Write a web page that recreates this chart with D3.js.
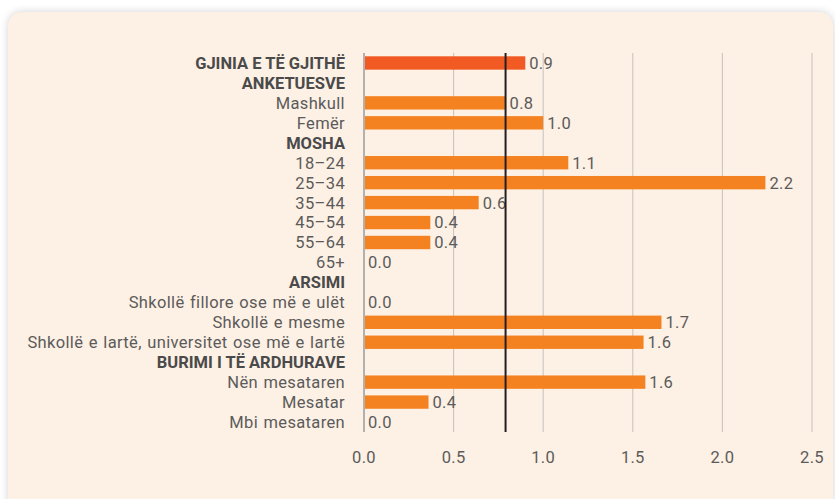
<!DOCTYPE html>
<html>
<head>
<meta charset="utf-8">
<script src="https://cdn.jsdelivr.net/npm/d3@7"></script>
<style>
  html, body { margin: 0; padding: 0; background: #ffffff; }
  #card {
    position: absolute; left: 8px; top: 12px; width: 825px; height: 500px;
    background: #fdf0e4; border-radius: 14px;
    box-shadow: 0 0 8px rgba(0,0,0,0.18);
  }
  svg { position: absolute; left: 0; top: 0; }
  text { font-family: "Roboto", "Liberation Sans", sans-serif; }
</style>
</head>
<body>
<div id="card"></div>
<svg id="chart" width="835" height="499"></svg>
<script>
// rows of the chart, top to bottom (null = section header without bar)
const labels = [
  "GJINIA E TË GJITHË", "ANKETUESVE", "Mashkull", "Femër",
  "MOSHA", "18–24", "25–34", "35–44", "45–54", "55–64", "65+",
  "ARSIMI", "Shkollë fillore ose më e ulët", "Shkollë e mesme",
  "Shkollë e lartë, universitet ose më e lartë",
  "BURIMI I TË ARDHURAVE", "Nën mesataren", "Mesatar", "Mbi mesataren"
];
const values = [
  0.9, null, 0.79, 1.0,
  null, 1.14, 2.24, 0.64, 0.37, 0.37, 0,
  null, 0, 1.66, 1.56,
  null, 1.57, 0.36, 0
];
const boldRows = [0, 1, 4, 11, 15];
const ticks = [0, 0.5, 1.0, 1.5, 2.0, 2.5];
const average = 0.79;

const svg = d3.select("#chart");
const x = d3.scaleLinear().domain([0, 2.5]).range([364, 812]);
const y = d3.scaleBand().domain(d3.range(labels.length)).range([53, 432]).paddingInner(0.33).paddingOuter(0.165);

// gridlines
svg.append("g").selectAll("line").data(ticks.slice(1)).join("line")
  .attr("x1", d => x(d)).attr("x2", d => x(d))
  .attr("y1", 53).attr("y2", 432)
  .attr("stroke", "#c6c2bd").attr("stroke-width", 1);

// bars
svg.append("g").selectAll("rect")
  .data(values.map((v, i) => ({v, i})).filter(d => d.v !== null && d.v > 0))
  .join("rect")
  .attr("x", x(0)).attr("y", d => y(d.i))
  .attr("width", d => x(d.v) - x(0)).attr("height", y.bandwidth())
  .attr("fill", d => d.i === 0 ? "#f15a22" : "#f58220");

// value labels
svg.append("g").selectAll("text")
  .data(values.map((v, i) => ({v, i})).filter(d => d.v !== null))
  .join("text")
  .attr("x", d => x(d.v) + 4).attr("y", d => y(d.i) + y.bandwidth() / 2)
  .attr("dy", "0.36em")
  .attr("font-size", 16.5).attr("letter-spacing", 0.3).attr("fill", "#5b5b5b")
  .text(d => d.v.toFixed(1));

// axis line
svg.append("line").attr("x1", x(0)).attr("x2", x(0)).attr("y1", 53).attr("y2", 432)
  .attr("stroke", "#b3b0ad").attr("stroke-width", 2);

// average reference line
svg.append("line").attr("x1", x(average)).attr("x2", x(average)).attr("y1", 53).attr("y2", 432)
  .attr("stroke", "#231f20").attr("stroke-width", 2);

// category labels
svg.append("g").selectAll("text").data(labels).join("text")
  .attr("x", 345).attr("y", (d, i) => y(i) + y.bandwidth() / 2)
  .attr("dy", "0.36em").attr("text-anchor", "end")
  .attr("font-size", 16.5)
  .attr("font-weight", (d, i) => boldRows.includes(i) ? 700 : 400)
  .attr("letter-spacing", (d, i) => boldRows.includes(i) ? 0 : 0.35)
  .attr("word-spacing", (d, i) => boldRows.includes(i) ? 0 : 1)
  .attr("fill", (d, i) => boldRows.includes(i) ? "#4a4a4a" : "#5b5b5b")
  .text(d => d);

// x tick labels
svg.append("g").selectAll("text").data(ticks).join("text")
  .attr("x", d => x(d)).attr("y", 457).attr("dy", "0.36em")
  .attr("text-anchor", "middle").attr("font-size", 16.5).attr("letter-spacing", 0.3)
  .attr("fill", "#5b5b5b")
  .text(d => d.toFixed(1));
</script>
</body>
</html>
